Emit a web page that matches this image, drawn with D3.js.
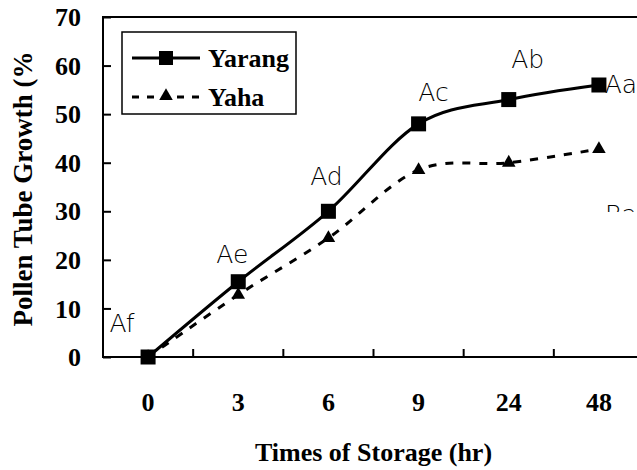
<!DOCTYPE html>
<html>
<head>
<meta charset="utf-8">
<script src="https://cdn.jsdelivr.net/npm/d3@7"></script>
<style>
  body { margin: 0; background: #fff; }
  svg { display: block; }
  .axis-text { font-family: "Liberation Serif", "Times New Roman", serif; font-weight: bold; font-size: 26px; fill: #000; }
  .pt-label { font-family: "DejaVu Sans", sans-serif; font-weight: 200; font-size: 25px; fill: #000; }
</style>
</head>
<body>
<div id="chart"></div>
<script>
// chart data
const categories = ["0", "3", "6", "9", "24", "48"];
const yarang = [0, 15.5, 30, 48, 53, 56];
const yaha = [0, 12.8, 24.5, 38.5, 40, 42.8];
const yTicks = [0, 10, 20, 30, 40, 50, 60, 70];
const seriesNames = ["Yarang", "Yaha"];
const letterLabels = ["Af", "Ae", "Ad", "Ac", "Ab", "Aa"];
const hiddenLabel = "Ba";

const width = 637, height = 470;
const margin = {top: 17, right: -7, bottom: 113, left: 103};

const svg = d3.select("#chart").append("svg")
    .attr("width", width)
    .attr("height", height);

const x = d3.scaleBand()
    .domain(categories)
    .range([margin.left, width - margin.right]);

const y = d3.scaleLinear()
    .domain([0, 70])
    .range([height - margin.bottom, margin.top]);

const cx = d => x(d) + x.bandwidth() / 2;

// plot area border
svg.append("rect")
    .attr("x", margin.left)
    .attr("y", margin.top)
    .attr("width", x.range()[1] - margin.left)
    .attr("height", y(0) - margin.top)
    .attr("fill", "none")
    .attr("stroke", "#000")
    .attr("stroke-width", 2);

// y axis (ticks inside)
let yAxis = svg.append("g")
    .attr("transform", "translate(" + margin.left + ",0)")
    .call(d3.axisRight(y).tickValues(yTicks).tickSize(8).tickFormat(""));
yAxis.select(".domain").remove();
yAxis.selectAll("line").attr("stroke-width", 2);

svg.selectAll(".ytick-label")
    .data(yTicks)
    .enter().append("text")
    .attr("class", "axis-text ytick-label")
    .attr("x", 81)
    .attr("y", d => y(d))
    .attr("dy", "0.35em")
    .attr("text-anchor", "end")
    .text(d => d);

// x axis: ticks at category boundaries, pointing up
let boundaries = categories.slice(1).map(c => x(c));
svg.selectAll(".xtick")
    .data(boundaries)
    .enter().append("line")
    .attr("x1", d => d).attr("x2", d => d)
    .attr("y1", y(0)).attr("y2", y(0) - 8)
    .attr("stroke", "#000")
    .attr("stroke-width", 2);

svg.selectAll(".xtick-label")
    .data(categories)
    .enter().append("text")
    .attr("class", "axis-text xtick-label")
    .attr("x", d => cx(d))
    .attr("y", 411)
    .attr("text-anchor", "middle")
    .text(d => d);

// axis titles
svg.append("text")
    .attr("class", "axis-text")
    .attr("x", (margin.left + x.range()[1]) / 2)
    .attr("y", 461)
    .attr("text-anchor", "middle")
    .text("Times of Storage (hr)");

svg.append("text")
    .attr("class", "axis-text")
    .attr("transform", "translate(32," + ((margin.top + y(0)) / 2 + 2) + ") rotate(-90)")
    .attr("text-anchor", "middle")
    .style("font-size", "27px")
    .text("Pollen Tube Growth (%");

// lines
const line = d3.line()
    .x((d, i) => cx(categories[i]))
    .y(d => y(d))
    .curve(d3.curveCardinal);

svg.append("path")
    .datum(yaha)
    .attr("d", line)
    .attr("fill", "none")
    .attr("stroke", "#000")
    .attr("stroke-width", 3)
    .attr("stroke-dasharray", "8,9");

svg.append("path")
    .datum(yarang)
    .attr("d", line)
    .attr("fill", "none")
    .attr("stroke", "#000")
    .attr("stroke-width", 3);

const triangle = d3.symbol().type(d3.symbolTriangle).size(80);

svg.selectAll(".tri")
    .data(yaha)
    .enter().append("path")
    .attr("d", triangle)
    .attr("transform", (d, i) => "translate(" + cx(categories[i]) + "," + y(d) + ")")
    .attr("fill", "#000");

svg.selectAll(".sq")
    .data(yarang)
    .enter().append("rect")
    .attr("x", (d, i) => cx(categories[i]) - 7.5)
    .attr("y", d => y(d) - 7.5)
    .attr("width", 15)
    .attr("height", 15)
    .attr("fill", "#000");

// letter labels, placed relative to the Yarang points
const labelOffsets = [[-26, -34], [-6, -27], [-2, -35], [15, -32], [19, -40], [22, -1]];
svg.selectAll(".pt-label")
    .data(letterLabels)
    .enter().append("text")
    .attr("class", "pt-label")
    .attr("x", (d, i) => cx(categories[i]) + labelOffsets[i][0])
    .attr("y", (d, i) => y(yarang[i]) + labelOffsets[i][1])
    .attr("dy", "0.35em")
    .attr("text-anchor", "middle")
    .text(d => d);

// the Yaha label at 48 is mostly hidden in the original
svg.append("clipPath").attr("id", "clipBa")
    .append("rect").attr("x", 0).attr("y", 0).attr("width", width).attr("height", 212);
svg.append("text")
    .attr("class", "pt-label")
    .attr("clip-path", "url(#clipBa)")
    .attr("x", cx("48") + 22)
    .attr("y", y(yaha[5]) + 65)
    .attr("dy", "0.35em")
    .attr("text-anchor", "middle")
    .text(hiddenLabel);

// legend
let legend = svg.append("g");
legend.append("rect")
    .attr("x", 122).attr("y", 32)
    .attr("width", 174).attr("height", 82)
    .attr("fill", "#fff")
    .attr("stroke", "#000")
    .attr("stroke-width", 1.5);

let rows = [58, 97];
legend.append("line")
    .attr("x1", 132).attr("x2", 200)
    .attr("y1", rows[0]).attr("y2", rows[0])
    .attr("stroke", "#000").attr("stroke-width", 3);
legend.append("rect")
    .attr("x", 159).attr("y", rows[0] - 7)
    .attr("width", 14).attr("height", 14)
    .attr("fill", "#000");
legend.append("line")
    .attr("x1", 132).attr("x2", 200)
    .attr("y1", rows[1]).attr("y2", rows[1])
    .attr("stroke", "#000").attr("stroke-width", 3)
    .attr("stroke-dasharray", "7,8");
legend.append("path")
    .attr("d", triangle)
    .attr("transform", "translate(166," + (rows[1] - 1) + ")")
    .attr("fill", "#000");

legend.selectAll(".leg-text")
    .data(seriesNames)
    .enter().append("text")
    .attr("class", "axis-text")
    .attr("x", 208)
    .attr("y", (d, i) => rows[i])
    .attr("dy", "0.35em")
    .text(d => d);
</script>
</body>
</html>
